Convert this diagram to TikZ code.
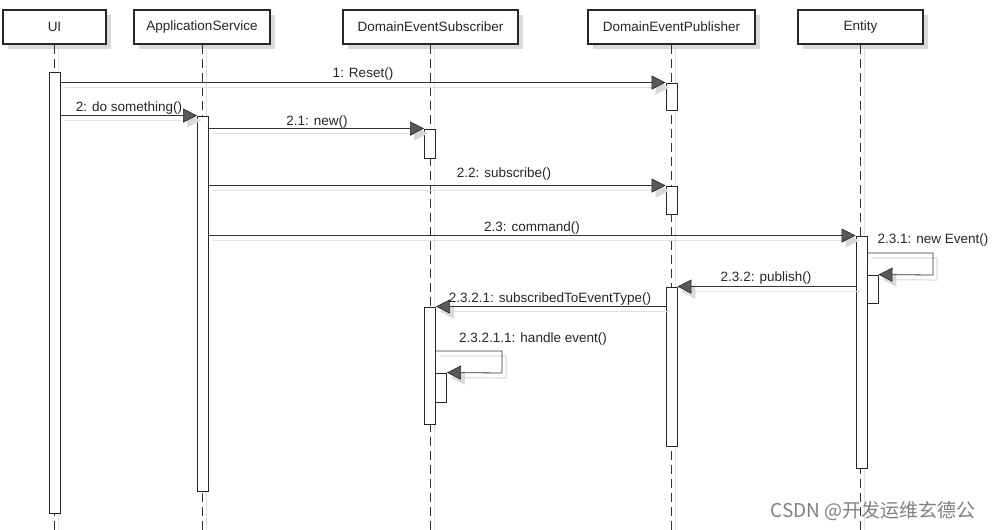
\documentclass[tikz,border=0pt]{standalone}
\usepackage{fontspec}
\setmainfont{Liberation Sans}
\newfontfamily\cjk{Noto Sans CJK SC}
\usetikzlibrary{arrows.meta,shadows,calc}
\begin{document}
\begin{tikzpicture}[x=1pt,y=-1pt,
  font=\fontsize{13.5}{16}\selectfont,
  head/.style={draw=black!85, line width=2pt, fill=white, minimum height=34pt, inner sep=0pt, text=black!85,
    drop shadow={shadow xshift=5pt, shadow yshift=-5pt, fill=black!15, opacity=1}},
  act/.style={draw=black!85, fill=white, line width=0.9pt, minimum width=11pt, inner sep=0pt},
  life/.style={draw=black!80, line width=1pt, dash pattern=on 9pt off 5pt},
  lifeshade/.style={draw=black!12, line width=1pt},
  msg/.style={draw=black!80, line width=0.8pt,
    -{Triangle[length=14pt,width=14pt,fill=black!65,color=black!85,line width=0.6pt]},
    preaction={draw=black!12, line width=1.2pt, transform canvas={shift={(4pt,-5pt)}},
      -{Triangle[length=14pt,width=14pt,fill=black!15,color=black!15]}}},
  lbl/.style={inner sep=0pt, text=black!85}
]
\fill[white] (0,0) rectangle (994,530);
\useasboundingbox (0,0) rectangle (994,530);

% headers
\node[head, minimum width=103pt] (ui)  at (54.5,27)  {UI};
\node[head, minimum width=136pt] (app) at (202,27)   {ApplicationService};
\node[head, minimum width=175pt] (sub) at (430.5,27) {DomainEventSubscriber};
\node[head, minimum width=167pt] (pub) at (671.5,27) {DomainEventPublisher};
\node[head, minimum width=125pt] (ent) at (860.5,27) {Entity};

% lifelines
\foreach \n in {ui,app,sub,pub,ent}{
  \draw[lifeshade] ($(\n.south)+(4,0)$) -- ($(\n.south|-0,530)+(4,0)$);
  \draw[life] (\n.south) -- (\n.south|-0,530);
}

% activations
\node[act, minimum height=441pt] (uia)  at (55,292.5)   {};
\node[act, minimum height=375pt] (appa) at (203,303.5)  {};
\node[act, minimum height=29pt]  (sub1) at (430,143.5)  {};
\node[act, minimum height=117pt] (sub2) at (430,365.5)  {};
\node[act, minimum height=29pt]  (subn) at (441,387.5)  {};
\node[act, minimum height=27pt]  (pub1) at (671.5,96.5) {};
\node[act, minimum height=28pt]  (pub2) at (671.5,200)  {};
\node[act, minimum height=159pt] (pub3) at (671.5,366.5){};
\node[act, minimum height=232pt] (enta) at (861.5,352)  {};
\node[act, minimum height=28pt]  (entn) at (872.5,289)  {};

% messages
\draw[msg] (uia.east |- pub1.north) -- (pub1.north west);
\draw[msg] (uia.east |- appa.north) -- (appa.north west);
\draw[msg] (appa.east |- sub1.north) -- (sub1.north west);
\draw[msg] (appa.east |- pub2.north) -- (pub2.north west);
\draw[msg] (appa.east |- enta.north) -- (enta.north west);
\draw[msg] (enta.east |- 0,253) -- (933,253) -- (933,275) -- (entn.north east);
\draw[msg] (enta.west |- pub3.north) -- (pub3.north east);
\draw[msg] (pub3.west |- sub2.north) -- (sub2.north east);
\draw[msg] (sub2.east |- 0,351) -- (502,351) -- (502,373) -- (subn.north east);

% labels
\node[lbl] (l1)    at (363,74)  {1: Reset()};
\node[lbl] (l2)    at (129,108) {2: do something()};
\node[lbl] (l21)   at (317,122) {2.1: new()};
\node[lbl] (l22)   at (504,174) {2.2: subscribe()};
\node[lbl] (l23)   at (532,228) {2.3: command()};
\node[lbl] (l231)  at (933,240) {2.3.1: new Event()};
\node[lbl] (l232)  at (766,278) {2.3.2: publish()};
\node[lbl] (l2321) at (550,299) {2.3.2.1: subscribedToEventType()};
\node[lbl] (l23211) at (533,339) {2.3.2.1.1: handle event()};

% watermark
\node[inner sep=0pt, text=black!50, font=\cjk\fontsize{19}{20}\selectfont] (wm) at (873,511) {CSDN @开发运维玄德公};
\end{tikzpicture}
\end{document}
